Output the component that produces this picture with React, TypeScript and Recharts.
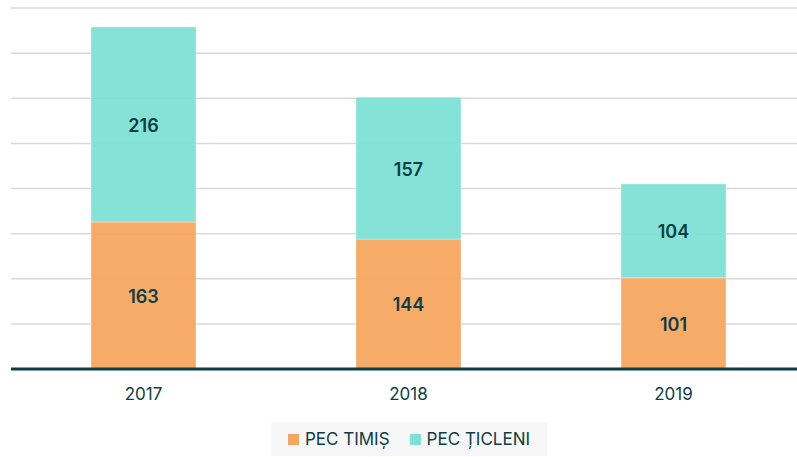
import { BarChart, Bar, XAxis, YAxis, CartesianGrid, LabelList } from 'recharts'

const years = ['2017', '2018', '2019']
const timisValues = [163, 144, 101]
const ticleniValues = [216, 157, 104]
const yTicks = [0, 50, 100, 150, 200, 250, 300, 350, 400]

const seriesNames = ['PEC TIMIȘ', 'PEC ȚICLENI']
const colors = ['#F7A661', '#7DE1D4']
const dark = '#0D3D45'
const font = 'Inter, "Noto Sans", sans-serif'

const data = years.map((year, i) => ({
  year,
  timis: timisValues[i],
  ticleni: ticleniValues[i],
}))

function LegendBox() {
  return (
    <div
      style={{
        position: 'absolute',
        left: 271,
        top: 422,
        width: 276,
        height: 34,
        background: '#f7f7f7',
        display: 'flex',
        alignItems: 'center',
        justifyContent: 'center',
        gap: 20,
        fontFamily: font,
        fontSize: 17,
        color: dark,
      }}
    >
      {seriesNames.map((name, i) => (
        <div key={name} style={{ display: 'flex', alignItems: 'center' }}>
          <span
            style={{
              display: 'inline-block',
              width: 11,
              height: 11,
              background: colors[i],
              marginRight: 6,
            }}
          />
          <span>{name}</span>
        </div>
      ))}
    </div>
  )
}

export default function App() {
  return (
    <div
      style={{
        position: 'absolute',
        left: 0,
        top: 0,
        width: 797,
        height: 457,
        overflow: 'hidden',
        background: '#fff',
      }}
    >
      <BarChart
        width={810}
        height={457}
        data={data}
        margin={{ top: 8, right: 4, left: 11, bottom: 48 }}
      >
        <CartesianGrid vertical={false} stroke="#d9d9d9" strokeWidth={1.5} />
        <YAxis hide domain={[0, 400]} ticks={yTicks} />
        <XAxis
          dataKey="year"
          stroke={dark}
          axisLine={{ stroke: dark, strokeWidth: 3 }}
          tickLine={false}
          tickMargin={13}
          height={40}
          tick={{ fill: dark, fontSize: 17, fontFamily: font }}
        />
        <Bar
          dataKey="timis"
          stackId="a"
          fill={colors[0]}
          fillOpacity={0.95}
          stroke="#ffffff"
          strokeOpacity={0.35}
          barSize={105}
          isAnimationActive={false}
        >
          <LabelList
            dataKey="timis"
            position="center"
            fill={dark}
            fontSize={18}
            fontWeight={600}
            fontFamily={font}
            dy={1}
          />
        </Bar>
        <Bar
          dataKey="ticleni"
          stackId="a"
          fill={colors[1]}
          fillOpacity={0.95}
          stroke="#ffffff"
          strokeOpacity={0.35}
          barSize={105}
          isAnimationActive={false}
        >
          <LabelList
            dataKey="ticleni"
            position="center"
            fill={dark}
            fontSize={18}
            fontWeight={600}
            fontFamily={font}
            dy={1}
          />
        </Bar>
      </BarChart>
      <LegendBox />
    </div>
  )
}
